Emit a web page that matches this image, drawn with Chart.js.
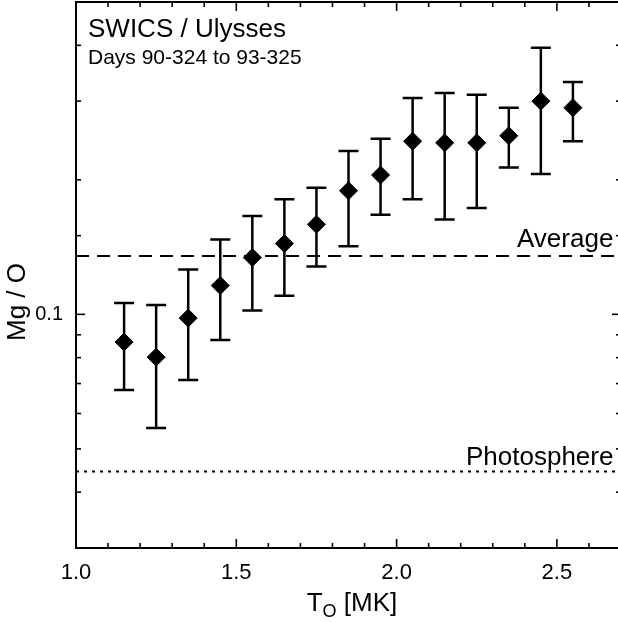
<!DOCTYPE html>
<html>
<head>
<meta charset="utf-8">
<script src="https://cdn.jsdelivr.net/npm/chart.js@4.4.1/dist/chart.umd.min.js"></script>
<style>
  html, body { margin: 0; padding: 0; background: #fff; overflow: hidden; }
  #wrap { width: 630px; height: 622px; }
</style>
</head>
<body>
<div id="wrap"><canvas id="chart" width="630" height="622"></canvas></div>
<script>
// --- Data ---
const temps = [1.15, 1.25, 1.35, 1.45, 1.55, 1.65, 1.75, 1.85, 1.95, 2.05, 2.15, 2.25, 2.35, 2.45, 2.55];
const mgO = [0.0867, 0.0802, 0.0981, 0.116, 0.134, 0.144, 0.159, 0.189, 0.205, 0.244, 0.242, 0.242, 0.251, 0.300, 0.290];
const mgOLow = [0.0677, 0.0557, 0.0713, 0.0876, 0.102, 0.110, 0.128, 0.142, 0.167, 0.181, 0.163, 0.173, 0.213, 0.206, 0.244];
const mgOHigh = [0.106, 0.105, 0.126, 0.147, 0.166, 0.181, 0.192, 0.232, 0.247, 0.305, 0.313, 0.310, 0.290, 0.395, 0.331];
const averageMgO = 0.135;
const photosphereMgO = 0.0445;
const xTickLabels = ['1.0', '1.5', '2.0', '2.5'];
const yTickLabels = ['0.1'];

const FONT = "'Liberation Sans', Arial, Helvetica, sans-serif";

// --- Error bars ---
const errorBars = {
  id: 'errorBars',
  beforeDatasetsDraw(chart) {
    const { ctx, scales: { x, y } } = chart;
    ctx.save();
    ctx.strokeStyle = '#000';
    ctx.lineWidth = 2.5;
    temps.forEach((t, i) => {
      const px = x.getPixelForValue(t);
      const top = y.getPixelForValue(mgOHigh[i]);
      const bot = y.getPixelForValue(mgOLow[i]);
      ctx.beginPath();
      ctx.moveTo(px, top); ctx.lineTo(px, bot);
      ctx.moveTo(px - 10, top); ctx.lineTo(px + 10, top);
      ctx.moveTo(px - 10, bot); ctx.lineTo(px + 10, bot);
      ctx.stroke();
    });
    ctx.restore();
  }
};

// --- Frame, inward ticks, titles and notes ---
const frameAndText = {
  id: 'frameAndText',
  afterDraw(chart) {
    const { ctx, chartArea: a, scales: { x, y } } = chart;
    const seg = (x1, y1, x2, y2) => { ctx.beginPath(); ctx.moveTo(x1, y1); ctx.lineTo(x2, y2); ctx.stroke(); };
    ctx.save();
    ctx.strokeStyle = '#000';
    ctx.lineWidth = 2;
    ctx.strokeRect(a.left, a.top, a.right - a.left, a.bottom - a.top);

    ctx.lineWidth = 1.6;
    x.ticks.forEach(t => {
      const px = x.getPixelForValue(t.value);
      const major = Math.abs(t.value * 2 - Math.round(t.value * 2)) < 1e-6;
      const len = major ? 9 : 5;
      seg(px, a.bottom, px, a.bottom - len);
      seg(px, a.top, px, a.top + len);
    });
    y.ticks.forEach(t => {
      const py = y.getPixelForValue(t.value);
      const major = yTickLabels.some(l => Math.abs(parseFloat(l) - t.value) < 1e-9);
      const len = major ? 9 : 5;
      seg(a.left, py, a.left + len, py);
      seg(a.right, py, a.right - len, py);
    });

    ctx.fillStyle = '#000';
    ctx.textBaseline = 'alphabetic';
    ctx.textAlign = 'left';
    ctx.font = '26px ' + FONT;
    ctx.fillText('SWICS / Ulysses', 88, 37);
    ctx.font = '21px ' + FONT;
    ctx.fillText('Days 90-324 to 93-325', 88, 64);

    ctx.font = '26px ' + FONT;
    ctx.fillText('Average', 517, y.getPixelForValue(averageMgO) - 9);
    ctx.fillText('Photosphere', 466, y.getPixelForValue(photosphereMgO) - 6);

    // x title with subscript
    const cx = 352, by = 611;
    ctx.font = '26px ' + FONT;
    const wT = ctx.measureText('T').width;
    ctx.font = '18px ' + FONT;
    const wO = ctx.measureText('O').width;
    ctx.font = '26px ' + FONT;
    const wRest = ctx.measureText(' [MK]').width;
    let sx = cx - (wT + wO + wRest) / 2;
    ctx.fillText('T', sx, by); sx += wT;
    ctx.font = '18px ' + FONT;
    ctx.fillText('O', sx, by + 6); sx += wO;
    ctx.font = '26px ' + FONT;
    ctx.fillText(' [MK]', sx, by);

    // y title
    ctx.save();
    ctx.translate(25, 302);
    ctx.rotate(-Math.PI / 2);
    ctx.textAlign = 'center';
    ctx.fillText('Mg / O', 0, 0);
    ctx.restore();
    ctx.restore();
  }
};

new Chart(document.getElementById('chart'), {
  type: 'scatter',
  data: {
    datasets: [
      {
        label: 'Mg/O',
        data: temps.map((t, i) => ({ x: t, y: mgO[i] })),
        pointStyle: 'rectRot',
        pointRadius: 9,
        backgroundColor: '#000',
        borderColor: '#000',
        borderWidth: 1
      },
      {
        label: 'Average',
        type: 'line',
        data: [{ x: 1.0, y: averageMgO }, { x: 2.7, y: averageMgO }],
        borderColor: '#000',
        borderWidth: 2,
        borderDash: [13, 8],
        pointRadius: 0
      },
      {
        label: 'Photosphere',
        type: 'line',
        data: [{ x: 1.0, y: photosphereMgO }, { x: 2.7, y: photosphereMgO }],
        borderColor: '#000',
        borderWidth: 2,
        borderDash: [3, 5],
        pointRadius: 0
      }
    ]
  },
  options: {
    responsive: false,
    animation: false,
    layout: { autoPadding: false, padding: { top: 2, right: 9, left: 0, bottom: 0 } },
    plugins: { legend: { display: false }, tooltip: { enabled: false } },
    scales: {
      x: {
        type: 'linear',
        min: 1.0,
        max: 2.7,
        grid: { display: false, drawTicks: false },
        border: { display: false },
        afterFit: s => { s.height = 74; s.paddingLeft = 0; s.paddingRight = 0; },
        ticks: {
          stepSize: 0.1,
          autoSkip: false,
          maxRotation: 0,
          padding: 12,
          color: '#000',
          font: { family: FONT, size: 22 },
          callback: v => xTickLabels.find(l => Math.abs(parseFloat(l) - v) < 1e-6) || ''
        }
      },
      y: {
        type: 'logarithmic',
        min: 0.03,
        max: 0.5,
        grid: { display: false, drawTicks: false },
        border: { display: false },
        afterFit: s => { s.width = 76; s.paddingTop = 0; s.paddingBottom = 0; },
        ticks: {
          autoSkip: false,
          padding: 13,
          color: '#000',
          font: { family: FONT, size: 20 },
          callback: v => yTickLabels.find(l => Math.abs(parseFloat(l) - v) < 1e-9) || ''
        }
      }
    }
  },
  plugins: [errorBars, frameAndText]
});
</script>
</body>
</html>
